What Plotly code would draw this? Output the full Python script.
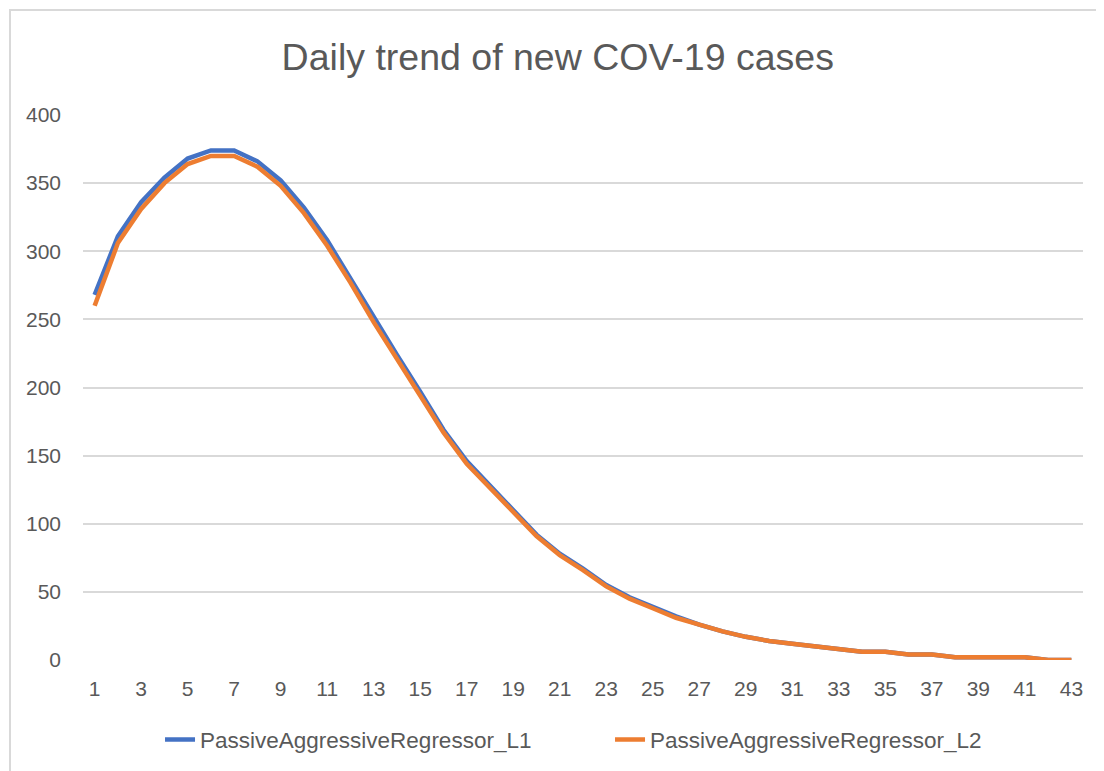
import plotly.graph_objects as go

days = list(range(1, 44))
x_tick_labels = [str(d) for d in range(1, 44, 2)]
y_tick_values = [0, 50, 100, 150, 200, 250, 300, 350, 400]

l1_name = "PassiveAggressiveRegressor_L1"
l2_name = "PassiveAggressiveRegressor_L2"

l1_values = [268, 311, 336, 354, 368, 374, 374, 366, 352, 332,
             308, 280, 251, 224, 197, 169, 146, 128, 111, 92,
             78, 67, 55, 46, 39, 32, 26, 21, 17, 14,
             12, 10, 8, 6, 6, 4, 4, 2, 2, 2,
             2, 0, 0]
l2_values = [260, 306, 331, 350, 364, 370, 370, 362, 348, 328,
             304, 277, 248, 221, 195, 167, 144, 126, 109, 91,
             77, 66, 54, 45, 38, 31, 26, 21, 17, 14,
             12, 10, 8, 6, 6, 4, 4, 2, 2, 2,
             2, 0, 0]

title_text = "Daily trend of new COV-19 cases"

FONT = "Liberation Sans, Arial, sans-serif"
TXT = "#595959"
GRID = "#D9D9D9"

fig = go.Figure()
fig.add_trace(go.Scatter(x=days, y=l1_values, mode="lines", name=l1_name,
                         line=dict(color="#4472C4", width=4.5)))
fig.add_trace(go.Scatter(x=days, y=l2_values, mode="lines", name=l2_name,
                         line=dict(color="#ED7D31", width=4.5)))

fig.update_layout(
    width=1104, height=771,
    margin=dict(l=75, r=29, t=107, b=119),
    paper_bgcolor="white", plot_bgcolor="white",
    font=dict(family=FONT, color=TXT, size=21),
    title=dict(text=title_text, x=0.498, xanchor="center", xref="container",
               y=0.9364, yref="container", yanchor="middle",
               font=dict(family=FONT, size=37.5, color=TXT)),
    showlegend=True,
    legend=dict(orientation="h", x=0.1377, xanchor="left", xref="container",
                y=0.0506, yref="container", yanchor="middle",
                font=dict(family=FONT, size=22.5, color=TXT),
                entrywidth=405, entrywidthmode="pixels",
                bgcolor="rgba(0,0,0,0)"),
    xaxis=dict(range=[0.5, 43.5], tickvals=list(range(1, 44, 2)), ticktext=x_tick_labels,
               showgrid=False, zeroline=False, showline=False, ticks="",
               tickfont=dict(family=FONT, size=21, color=TXT), ticklabelstandoff=14),
    yaxis=dict(range=[0, 400], tickvals=y_tick_values, showgrid=True, gridcolor=GRID,
               gridwidth=1.5, zeroline=False, showline=False, ticks="",
               tickfont=dict(family=FONT, size=21, color=TXT), ticklabelstandoff=21),
    shapes=[dict(type="rect", xref="paper", yref="paper",
                 x0=-0.073, x1=1.06, y0=-0.25, y1=1.1927,
                 line=dict(color="#D9D9D9", width=2), fillcolor="rgba(0,0,0,0)", layer="below")],
)

fig.write_html("out.html")
